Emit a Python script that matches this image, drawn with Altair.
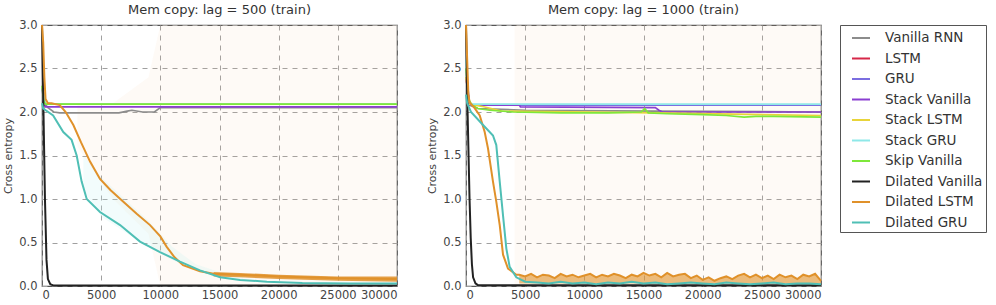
import altair as alt
import pandas as pd

NAMES = ["Vanilla RNN", "LSTM", "GRU", "Stack Vanilla", "Stack LSTM", "Stack GRU",
         "Skip Vanilla", "Dilated Vanilla", "Dilated LSTM", "Dilated GRU"]
COLORS = ["#8c8c8c", "#d62748", "#7b6ee0", "#8a3fd1", "#e8d43a", "#8fe8e8",
          "#7ee83a", "#222222", "#e0912a", "#4fbfb5"]
TITLES = ["Mem copy: lag = 500 (train)", "Mem copy: lag = 1000 (train)"]
X_TICKS = [0, 5000, 10000, 15000, 20000, 25000, 30000]
Y_TICKS = [0.0, 0.5, 1.0, 1.5, 2.0, 2.5, 3.0]

# ---------------- lag = 500 ----------------
L_VAN_X = [0, 200, 500, 1000, 1500, 4000, 6500, 7200, 7600, 8500, 9500, 10000, 11000, 30000]
L_VAN_Y = [2.3, 2.1, 2.05, 2.0, 1.99, 1.99, 1.99, 2.01, 2.02, 2.0, 2.0, 2.05, 2.05, 2.05]
L_LSTM_X = [0, 300, 30000]
L_LSTM_Y = [2.3, 2.09, 2.09]
L_GRU_X = [0, 300, 30000]
L_GRU_Y = [2.3, 2.09, 2.09]
L_SVAN_X = [0, 150, 300, 30000]
L_SVAN_Y = [2.3, 2.1, 2.06, 2.06]
L_SLSTM_X = [0, 300, 30000]
L_SLSTM_Y = [2.3, 2.09, 2.09]
L_SGRU_X = [0, 300, 30000]
L_SGRU_Y = [2.3, 2.09, 2.09]
L_SKIP_X = [0, 150, 300, 30000]
L_SKIP_Y = [2.3, 2.12, 2.09, 2.09]
L_DVAN_X = [0, 100, 250, 380, 500, 700, 1000, 30000]
L_DVAN_Y = [3.0, 2.2, 1.0, 0.3, 0.08, 0.02, 0.005, 0.005]
L_DLSTM_X = [0, 100, 200, 300, 500, 800, 1500, 2000, 2650, 3300, 4060, 4900, 5800, 6850,
             8000, 9130, 10000, 10540, 11200, 11920, 13350, 14500, 16700, 20000, 25000, 30000]
L_DLSTM_Y = [3.0, 2.8, 2.4, 2.15, 2.1, 2.1, 2.08, 2.0, 1.85, 1.65, 1.43, 1.23, 1.1, 0.97,
             0.83, 0.70, 0.57, 0.45, 0.33, 0.24, 0.17, 0.14, 0.13, 0.11, 0.09, 0.08]
L_DGRU_X = [0, 100, 940, 1800, 2500, 2930, 3350, 3780, 4900, 6600, 8280, 9970, 11660,
            13350, 15050, 16740, 19000, 22000, 26000, 30000]
L_DGRU_Y = [2.1, 2.04, 1.96, 1.77, 1.68, 1.5, 1.2, 1.0, 0.85, 0.7, 0.51, 0.39, 0.28,
            0.18, 0.1, 0.07, 0.05, 0.035, 0.03, 0.03]
# faint spread bands
L_BAND_X = [3000, 6000, 9000, 10000, 30000]
L_BAND_LO = [1.6, 1.0, 0.6, 0.0, 0.0]
L_BAND_HI = [2.1, 2.1, 2.4, 3.0, 3.0]
L_CBAND_X = [3500, 5000, 7000, 9000, 11000, 13000, 15000, 17000]
L_CBAND_LO = [1.1, 0.8, 0.62, 0.45, 0.3, 0.18, 0.1, 0.06]
L_CBAND_HI = [1.5, 1.25, 1.0, 0.75, 0.45, 0.25, 0.16, 0.13]
L_NOISE_X = [14500, 16700, 20000, 25000, 30000]
L_NOISE_LO = [0.11, 0.10, 0.08, 0.06, 0.05]
L_NOISE_HI = [0.16, 0.15, 0.13, 0.11, 0.11]

# ---------------- lag = 1000 ----------------
R_VAN_X = [0, 300, 1000, 5000, 16000, 30000]
R_VAN_Y = [2.4, 2.08, 2.04, 2.02, 2.01, 2.0]
R_LSTM_X = [0, 300, 30000]
R_LSTM_Y = [2.4, 2.08, 2.08]
R_GRU_X = [0, 300, 30000]
R_GRU_Y = [2.4, 2.08, 2.08]
R_SVAN_X = [0, 300, 4500, 4600, 16000, 16300, 16600, 30000]
R_SVAN_Y = [2.5, 2.08, 2.08, 2.06, 2.05, 2.02, 2.0, 2.0]
R_SLSTM_X = [0, 300, 1500, 3000, 16000, 30000]
R_SLSTM_Y = [2.4, 2.09, 2.06, 2.01, 1.99, 1.96]
R_SGRU_X = [0, 150, 400, 30000]
R_SGRU_Y = [2.6, 2.15, 2.09, 2.09]
R_SKIP_X = [0, 200, 500, 1000, 2000, 4000, 8000, 12000, 14800, 15100, 15400, 17000,
            20000, 22000, 23500, 24500, 26000, 30000]
R_SKIP_Y = [2.5, 2.15, 2.08, 2.04, 2.02, 2.0, 1.99, 1.99, 2.0, 2.04, 1.99, 1.98,
            1.97, 1.96, 1.94, 1.95, 1.95, 1.94]
R_DVAN_X = [0, 100, 200, 300, 400, 500, 600, 800, 1000, 30000]
R_DVAN_Y = [3.0, 2.2, 1.6, 1.0, 0.55, 0.25, 0.1, 0.03, 0.01, 0.01]
R_DLSTM_X = [0, 100, 200, 310, 700, 1160, 1580, 1860, 2280, 2560, 2850, 3130, 3550, 4250,
             4500, 5000, 5500, 6000, 6500, 7000, 7500, 8000, 8500, 9000, 9500, 10000,
             10500, 11000, 11500, 12000, 12500, 13000, 13500, 14000, 14500, 15000, 15500,
             16000, 16500, 17000, 17500, 18000, 18500, 19000, 19500, 20000, 20500, 21000,
             21500, 22000, 22500, 23000, 23500, 24000, 24500, 25000, 25500, 26000, 26500,
             27000, 27500, 28000, 28500, 29000, 29500, 30000]
R_DLSTM_Y = [3.0, 2.6, 2.2, 2.11, 2.05, 1.96, 1.77, 1.58, 1.2, 0.97, 0.7, 0.36, 0.2, 0.13,
             0.13, 0.11, 0.14, 0.10, 0.13, 0.12, 0.09, 0.14, 0.11, 0.13, 0.10, 0.12,
             0.14, 0.10, 0.13, 0.11, 0.14, 0.12, 0.09, 0.13, 0.11, 0.15, 0.12,
             0.14, 0.10, 0.15, 0.11, 0.13, 0.14, 0.09, 0.12, 0.07, 0.10, 0.06,
             0.09, 0.11, 0.08, 0.12, 0.14, 0.10, 0.13, 0.09, 0.12, 0.08, 0.13,
             0.10, 0.12, 0.08, 0.13, 0.11, 0.14, 0.06]
R_DGRU_X = [0, 100, 420, 1440, 2280, 2560, 2850, 3130, 3410, 3690, 4250, 5000, 6000,
            7000, 8000, 9000, 10000, 11000, 12000, 13000, 14000, 15000, 16000, 17000,
            18000, 19000, 20000, 21000, 22000, 23000, 24000, 25000, 26000, 27000, 28000,
            29000, 30000]
R_DGRU_Y = [2.2, 2.1, 2.0, 1.85, 1.73, 1.62, 1.2, 0.81, 0.43, 0.22, 0.1, 0.05, 0.04,
            0.03, 0.05, 0.03, 0.04, 0.02, 0.04, 0.03, 0.05, 0.03, 0.04, 0.02, 0.03,
            0.04, 0.03, 0.02, 0.04, 0.03, 0.02, 0.03, 0.04, 0.02, 0.03, 0.03, 0.02]
R_BAND_X = [4100, 30000]
R_BAND_LO = [0.0, 0.0]
R_BAND_HI = [3.0, 3.0]

LEFT = {
    "Vanilla RNN": (L_VAN_X, L_VAN_Y), "LSTM": (L_LSTM_X, L_LSTM_Y), "GRU": (L_GRU_X, L_GRU_Y),
    "Stack Vanilla": (L_SVAN_X, L_SVAN_Y), "Stack LSTM": (L_SLSTM_X, L_SLSTM_Y),
    "Stack GRU": (L_SGRU_X, L_SGRU_Y), "Skip Vanilla": (L_SKIP_X, L_SKIP_Y),
    "Dilated Vanilla": (L_DVAN_X, L_DVAN_Y), "Dilated LSTM": (L_DLSTM_X, L_DLSTM_Y),
    "Dilated GRU": (L_DGRU_X, L_DGRU_Y),
}
RIGHT = {
    "Vanilla RNN": (R_VAN_X, R_VAN_Y), "LSTM": (R_LSTM_X, R_LSTM_Y), "GRU": (R_GRU_X, R_GRU_Y),
    "Stack Vanilla": (R_SVAN_X, R_SVAN_Y), "Stack LSTM": (R_SLSTM_X, R_SLSTM_Y),
    "Stack GRU": (R_SGRU_X, R_SGRU_Y), "Skip Vanilla": (R_SKIP_X, R_SKIP_Y),
    "Dilated Vanilla": (R_DVAN_X, R_DVAN_Y), "Dilated LSTM": (R_DLSTM_X, R_DLSTM_Y),
    "Dilated GRU": (R_DGRU_X, R_DGRU_Y),
}

FONT = "DejaVu Sans"
W, H = 355, 261

color_scale = alt.Scale(domain=NAMES, range=COLORS)
XS = alt.Scale(domain=[0, 30000], nice=False)
YS = alt.Scale(domain=[0, 3], nice=False)


def panel(series, title, bands, noisy_area=None):
    xax = alt.Axis(values=X_TICKS, format="d", title=None, grid=True, gridDash=[5, 5],
                   gridColor="#a0a0a0", ticks=False, labelPadding=3, domain=False,
                   labelFontSize=11.5, labelColor="#444", labelFont=FONT)
    yax = alt.Axis(values=Y_TICKS, format=".1f", title="Cross entropy", grid=True,
                   gridDash=[5, 5], gridColor="#a0a0a0", ticks=False, labelPadding=5,
                   domain=False, labelFontSize=11.5, labelColor="#444", labelFont=FONT,
                   titleFontSize=11, titleFontWeight="normal", titleColor="#444",
                   titleFont=FONT, titlePadding=5)
    layers = []
    for xs, lo, hi, col, op in bands:
        df = pd.DataFrame({"x": xs, "lo": lo, "hi": hi})
        layers.append(alt.Chart(df).mark_area(color=col, opacity=op).encode(
            x=alt.X("x:Q", scale=XS, axis=xax),
            y=alt.Y("lo:Q", scale=YS, axis=yax), y2="hi:Q"))
    if noisy_area is not None:
        xs, ys, base, col, op = noisy_area
        df = pd.DataFrame({"x": xs, "y": ys, "b": base})
        layers.append(alt.Chart(df).mark_area(color=col, opacity=op).encode(
            x=alt.X("x:Q", scale=XS, axis=xax),
            y=alt.Y("y:Q", scale=YS, axis=yax), y2="b:Q"))
    for name in NAMES:
        xs, ys = series[name]
        df = pd.DataFrame({"x": xs, "y": ys, "series": name})
        sw = 2.0 if name.startswith("Dilated") else 1.7
        layers.append(alt.Chart(df).mark_line(strokeWidth=sw).encode(
            x=alt.X("x:Q", scale=XS, axis=xax),
            y=alt.Y("y:Q", scale=YS, axis=yax),
            color=alt.Color("series:N", scale=color_scale, legend=alt.Legend(title=None)),
        ))
    return alt.layer(*layers).properties(
        width=W, height=H,
        title=alt.TitleParams(title, fontSize=13, font=FONT, fontWeight="normal",
                              color="#333", offset=2))


NOISE_BASE = [0.03] * len(R_DLSTM_X[14:])

left = panel(LEFT, TITLES[0], [
    (L_BAND_X, L_BAND_LO, L_BAND_HI, "#f3c48a", 0.08),
    (L_CBAND_X, L_CBAND_LO, L_CBAND_HI, "#bfeef0", 0.2),
    (L_NOISE_X, L_NOISE_LO, L_NOISE_HI, "#e0912a", 0.85),
])
right = panel(RIGHT, TITLES[1], [
    (R_BAND_X, R_BAND_LO, R_BAND_HI, "#f3c48a", 0.08),
], noisy_area=(R_DLSTM_X[14:], R_DLSTM_Y[14:], NOISE_BASE, "#e0912a", 0.6))

chart = alt.hconcat(left, right, spacing=24).configure(
    background="white", padding={"left": 2, "top": 3, "right": 3, "bottom": 5}
).configure_view(stroke="#555", strokeWidth=1.2).configure_legend(
    orient="right", offset=14, strokeColor="#555", fillColor="white", padding=3,
    rowPadding=3.5, labelFontSize=13.5, labelFont=FONT, labelColor="#333",
    symbolType="stroke", symbolSize=324, symbolStrokeWidth=2, symbolOffset=8,
    labelOffset=14, cornerRadius=0,
)

chart.save("out.html", embed_options={"renderer": "svg", "actions": False})
